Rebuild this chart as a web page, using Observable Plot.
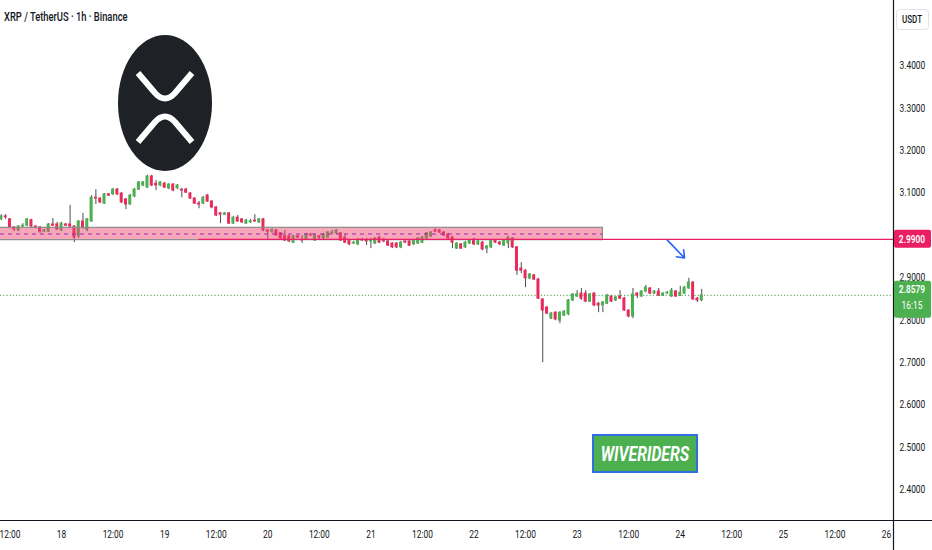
<!DOCTYPE html>
<html><head><meta charset="utf-8">
<script src="https://cdn.jsdelivr.net/npm/d3@7"></script>
<script src="https://cdn.jsdelivr.net/npm/@observablehq/plot@0.6"></script>
<style>
html,body{margin:0;padding:0;background:#fff;}
#wrap{position:relative;width:932px;height:550px;overflow:hidden;font-family:Roboto,sans-serif;color:#131722;background:#fff;}
#chart{position:absolute;left:0;top:0;}
#logo{position:absolute;left:0;top:0;}
#title{position:absolute;left:4px;top:9px;font-size:12.5px;font-weight:500;transform:scaleX(0.75);transform-origin:0 0;white-space:nowrap;}
#brand{position:absolute;left:592px;top:434px;width:102px;height:35px;background:#4caf50;border:2px solid #2f6fe0;display:flex;align-items:center;justify-content:center;overflow:hidden;}
#brand span{color:#fff;font-weight:700;font-style:italic;font-size:21px;transform:scaleX(0.75);display:inline-block;white-space:nowrap;}
</style></head>
<body>
<div id="wrap">
  <div id="chart"></div>
  <svg id="logo" width="932" height="550">
    <ellipse cx="165" cy="103" rx="47" ry="68" fill="#1e2227"/>
    <path d="M138,73 L155,93 Q165,104 175,93 L192,73" stroke="#fff" stroke-width="6" fill="none"/>
    <path d="M138,142 L155,122 Q165,111 175,122 L192,142" stroke="#fff" stroke-width="6" fill="none"/>
  </svg>
  <div id="title">XRP / TetherUS · 1h · Binance</div>
  <div id="brand"><span>WIVERIDERS</span></div>
</div>
<script>
// ---- data (hourly candles, XRP/USDT) ----
const firstCandle = "2025-08-17T10:00:00Z";
const opens = [
3.037,3.044,3.037,3.018,3.011,3.020,3.022,3.035,3.020,3.018,
3.008,3.008,3.025,3.025,3.011,3.025,3.025,3.020,2.997,3.032,
3.011,3.032,3.088,3.086,3.074,3.096,3.096,3.107,3.098,3.084,
3.072,3.091,3.107,3.117,3.112,3.138,3.121,3.117,3.121,3.110,
3.119,3.110,3.107,3.107,3.098,3.086,3.074,3.074,3.093,3.079,
3.065,3.051,3.048,3.051,3.027,3.041,3.037,3.027,3.030,3.034,
3.030,3.037,3.011,3.008,3.011,3.004,2.997,2.997,2.982,2.997,
2.989,2.989,3.001,2.987,2.997,2.992,2.994,3.004,3.004,3.004,
2.994,2.987,2.980,2.978,2.989,2.987,2.985,2.980,2.994,2.989,
2.985,2.980,2.980,2.971,2.985,2.985,2.978,2.980,2.982,2.992,
2.997,3.011,3.011,3.006,3.001,2.994,2.968,2.978,2.971,2.980,
2.989,2.978,2.982,2.968,2.971,2.987,2.982,2.975,2.980,2.992,
2.971,2.921,2.916,2.898,2.905,2.895,2.848,2.829,2.803,2.817,
2.798,2.810,2.813,2.846,2.855,2.862,2.862,2.843,2.862,2.838,
2.834,2.838,2.855,2.846,2.855,2.850,2.822,2.808,2.862,2.855,
2.867,2.874,2.862,2.867,2.857,2.862,2.855,2.867,2.857,2.862,
2.874,2.888,2.850,2.846];
const highs = [
3.048,3.048,3.039,3.020,3.022,3.027,3.039,3.037,3.022,3.020,
3.013,3.027,3.039,3.030,3.030,3.027,3.070,3.022,3.034,3.051,
3.039,3.093,3.107,3.088,3.098,3.098,3.110,3.110,3.100,3.086,
3.096,3.110,3.126,3.126,3.141,3.141,3.129,3.126,3.124,3.121,
3.121,3.119,3.110,3.110,3.100,3.088,3.079,3.091,3.096,3.081,
3.067,3.053,3.053,3.053,3.044,3.046,3.039,3.037,3.037,3.048,
3.039,3.039,3.013,3.015,3.013,3.006,3.011,2.999,2.999,2.999,
2.999,3.004,3.004,3.001,2.999,3.004,3.008,3.011,3.013,3.006,
3.001,2.989,2.985,2.992,2.992,2.992,2.992,2.994,2.997,2.992,
2.987,2.982,2.982,2.985,2.987,2.987,2.989,2.994,2.997,3.006,
3.008,3.015,3.013,3.008,3.004,2.997,2.982,2.980,2.985,2.989,
2.992,2.987,2.985,2.975,2.989,2.989,2.985,2.989,2.997,2.994,
2.973,2.935,2.918,2.909,2.907,2.898,2.850,2.831,2.817,2.819,
2.819,2.822,2.848,2.862,2.869,2.874,2.869,2.862,2.864,2.841,
2.843,2.860,2.857,2.855,2.869,2.853,2.824,2.874,2.864,2.869,
2.881,2.876,2.869,2.874,2.864,2.867,2.874,2.869,2.879,2.879,
2.898,2.890,2.853,2.872];
const lows = [
3.034,3.037,3.015,3.008,3.008,3.018,3.020,3.018,3.015,3.004,
3.006,3.006,3.020,3.011,3.008,3.020,3.018,2.982,2.992,3.013,
3.008,3.030,3.072,3.074,3.072,3.091,3.093,3.093,3.074,3.060,
3.070,3.088,3.105,3.114,3.110,3.114,3.105,3.114,3.110,3.107,
3.102,3.107,3.088,3.098,3.084,3.072,3.062,3.072,3.077,3.062,
3.044,3.027,3.046,3.025,3.025,3.030,3.027,3.025,3.027,3.030,
3.027,3.008,2.989,3.004,2.997,2.989,2.985,2.982,2.980,2.992,
2.980,2.987,2.997,2.985,2.989,2.989,2.992,3.001,3.001,2.985,
2.980,2.975,2.978,2.975,2.985,2.975,2.968,2.978,2.980,2.982,
2.973,2.968,2.968,2.968,2.980,2.973,2.975,2.978,2.980,2.989,
2.994,3.006,3.004,2.997,2.989,2.968,2.966,2.966,2.968,2.978,
2.975,2.975,2.963,2.956,2.968,2.980,2.975,2.973,2.968,2.968,
2.905,2.909,2.876,2.895,2.893,2.848,2.699,2.812,2.801,2.798,
2.791,2.808,2.810,2.843,2.853,2.846,2.841,2.841,2.831,2.817,
2.817,2.836,2.841,2.843,2.848,2.820,2.805,2.803,2.850,2.853,
2.864,2.860,2.860,2.855,2.855,2.860,2.853,2.853,2.855,2.860,
2.872,2.846,2.841,2.843];
const closes = [
3.044,3.042,3.018,3.013,3.020,3.022,3.037,3.020,3.018,3.008,
3.011,3.025,3.022,3.013,3.027,3.022,3.020,2.994,3.032,3.018,
3.037,3.088,3.086,3.077,3.096,3.093,3.107,3.096,3.077,3.072,
3.093,3.107,3.124,3.124,3.138,3.117,3.117,3.124,3.112,3.119,
3.105,3.117,3.105,3.100,3.086,3.074,3.072,3.088,3.079,3.065,
3.046,3.048,3.051,3.027,3.041,3.032,3.030,3.034,3.032,3.032,
3.037,3.011,3.008,3.011,2.999,2.992,2.987,2.985,2.997,2.994,
2.987,3.001,2.999,2.999,2.994,3.001,3.006,3.006,3.011,2.987,
2.982,2.978,2.982,2.989,2.987,2.985,2.987,2.992,2.982,2.985,
2.975,2.971,2.971,2.982,2.982,2.975,2.987,2.992,2.994,3.004,
3.006,3.008,3.006,2.999,2.992,2.982,2.980,2.968,2.982,2.987,
2.978,2.985,2.966,2.973,2.987,2.982,2.978,2.987,2.994,2.971,
2.916,2.916,2.898,2.907,2.895,2.850,2.822,2.815,2.815,2.801,
2.817,2.819,2.846,2.860,2.860,2.850,2.843,2.860,2.834,2.834,
2.841,2.857,2.843,2.853,2.850,2.822,2.808,2.860,2.857,2.867,
2.876,2.862,2.867,2.857,2.862,2.864,2.869,2.855,2.864,2.876,
2.888,2.848,2.846,2.858];

const currentPrice = 2.8579;
const countdown = "16:15";
const levelPrice = 2.99;
const levelStart = "2025-08-19T08:00:00Z";
const zoneLow = 2.988, zoneHigh = 3.017, zoneMid = 3.0025;
const zoneStart = "2025-08-17T00:00:00Z", zoneEnd = "2025-08-23T06:00:00Z";
const arrowFrom = {t: "2025-08-23T21:00:00Z", p: 2.988};
const arrowTo = {t: "2025-08-24T01:00:00Z", p: 2.946};
// 3.0000 sits hidden behind the 2.9900 price tag in the reference
const yTicks = [2.4, 2.5, 2.6, 2.7, 2.8, 2.9, 3.1, 3.2, 3.3, 3.4];
const xTickDates = ["2025-08-17T12:00Z","2025-08-18T00:00Z","2025-08-18T12:00Z","2025-08-19T00:00Z","2025-08-19T12:00Z",
  "2025-08-20T00:00Z","2025-08-20T12:00Z","2025-08-21T00:00Z","2025-08-21T12:00Z","2025-08-22T00:00Z",
  "2025-08-22T12:00Z","2025-08-23T00:00Z","2025-08-23T12:00Z","2025-08-24T00:00Z","2025-08-24T12:00Z",
  "2025-08-25T00:00Z","2025-08-25T12:00Z","2025-08-26T00:00Z"];
const xDomain = ["2025-08-17T09:48:00Z", "2025-08-26T01:38:00Z"];
const yDomain = [2.327, 3.553];

const UP = "#4caf50", DOWN = "#ea2a5c", WICK = "#4a4d55";
const t0 = new Date(firstCandle).getTime();
const candles = opens.map((o, i) => ({t: new Date(t0 + i * 3600e3), o, h: highs[i], l: lows[i], c: closes[i]}));
const half = 21 * 60e3;

const chart = Plot.plot({
  width: 932, height: 550,
  marginLeft: 0, marginRight: 39, marginTop: 0, marginBottom: 30,
  style: {background: "#fff", fontFamily: "Roboto, sans-serif", fontSize: "11.5px", color: "#131722"},
  x: {type: "utc", domain: xDomain.map(d => new Date(d))},
  y: {domain: yDomain},
  marks: [
    Plot.ruleY([currentPrice], {stroke: "#43a047", strokeDasharray: "1.2,2", strokeWidth: 1}),
    Plot.ruleX(candles, {x: "t", y1: "l", y2: "h", stroke: WICK, strokeWidth: 1}),
    Plot.rect(candles.filter(d => d.c >= d.o), {x1: d => new Date(+d.t - half), x2: d => new Date(+d.t + half), y1: "o", y2: "c", fill: UP, insetTop: -0.5, insetBottom: -0.5}),
    Plot.rect(candles.filter(d => d.c < d.o), {x1: d => new Date(+d.t - half), x2: d => new Date(+d.t + half), y1: "o", y2: "c", fill: DOWN, insetTop: -0.5, insetBottom: -0.5}),
    Plot.rect([{a: new Date(zoneStart), b: new Date(zoneEnd), lo: zoneLow, hi: zoneHigh}], {x1: "a", x2: "b", y1: "lo", y2: "hi", fill: "#f0456e", fillOpacity: 0.47, stroke: "#8c8c8c", strokeWidth: 1.2, clip: true}),
    Plot.ruleY([zoneMid], {x1: new Date(xDomain[0]), x2: new Date(zoneEnd), stroke: "#9c27b0", strokeDasharray: "4,4", strokeWidth: 1}),
    Plot.ruleY([levelPrice], {x1: new Date(levelStart), x2: new Date(xDomain[1]), stroke: "#e91e63", strokeWidth: 1.2}),
    Plot.arrow([{x1: new Date(arrowFrom.t), y1: arrowFrom.p, x2: new Date(arrowTo.t), y2: arrowTo.p}], {x1: "x1", y1: "y1", x2: "x2", y2: "y2", stroke: "#2962ff", strokeWidth: 1.6, headLength: 13, headAngle: 75}),
    Plot.axisY({anchor: "right", ticks: yTicks, tickFormat: d => d.toFixed(4), tickSize: 0, tickPadding: 6, label: null, fill: "#131722"}),
    Plot.axisX({ticks: xTickDates.map(d => new Date(d)), tickFormat: d => d.getUTCHours() === 12 ? "12:00" : String(d.getUTCDate()), tickSize: 0, tickPadding: 9, label: null, fill: "#131722"})
  ]
});
document.getElementById("chart").appendChild(chart);

// narrow the axis text like the reference
const SX = 0.73;
chart.querySelectorAll('g[aria-label="x-axis tick label"] text, g[aria-label="y-axis tick label"] text').forEach(t => {
  const tr = t.getAttribute("transform");
  if (tr) t.setAttribute("transform", tr + ` scale(${SX},1)`);
  else {
    const x = +(t.getAttribute("x") || 0);
    t.setAttribute("transform", `translate(${x},0) scale(${SX},1) translate(${-x},0)`);
  }
});

// overlays using the chart's scales
const ys = chart.scale("y");
const svg = d3.select(chart);
const W = 932, axisX = 893;
const yBottom = ys.apply(yDomain[0]);
svg.append("line").attr("x1", 0).attr("x2", W).attr("y1", Math.round(yBottom) + 0.5).attr("y2", Math.round(yBottom) + 0.5).attr("stroke", "#131722").attr("stroke-width", 1.2);
svg.append("line").attr("x1", axisX + 0.5).attr("x2", axisX + 0.5).attr("y1", 0).attr("y2", 550).attr("stroke", "#131722").attr("stroke-width", 1.2);

function label(g, x, y, txt, opts = {}) {
  g.append("text").attr("transform", `translate(${x},${y}) scale(${SX},1)`).attr("text-anchor", "middle")
    .attr("dy", "0.35em").attr("fill", opts.fill || "#fff").attr("font-size", opts.size || 11.5)
    .attr("font-weight", opts.weight || 500).text(txt);
}
const lv = ys.apply(levelPrice);
svg.append("rect").attr("x", axisX + 1).attr("y", lv - 9).attr("width", 37).attr("height", 18).attr("rx", 2).attr("fill", "#e91e63");
label(svg, 912, lv, levelPrice.toFixed(4), {weight: 600});
const cp = ys.apply(currentPrice);
svg.append("rect").attr("x", axisX + 1).attr("y", cp - 14).attr("width", 37).attr("height", 37).attr("rx", 2).attr("fill", "#4caf50");
label(svg, 912, cp - 6, currentPrice.toFixed(4), {weight: 600});
label(svg, 912, cp + 10, countdown, {weight: 400});
svg.append("rect").attr("x", axisX + 3.5).attr("y", 9.5).attr("width", 32).attr("height", 20).attr("rx", 3).attr("fill", "#fff").attr("stroke", "#e0e3eb");
label(svg, 912, 19.5, "USDT", {fill: "#131722", size: 11, weight: 500});
</script>
</body></html>
